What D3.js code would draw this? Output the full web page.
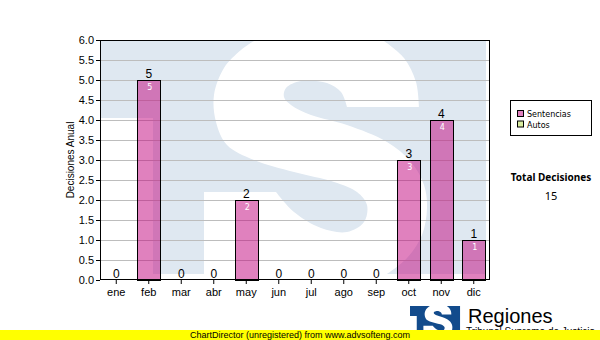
<!DOCTYPE html>
<html>
<head>
<meta charset="utf-8">
<script src="https://cdn.jsdelivr.net/npm/d3@7"></script>
<style>
  body { margin: 0; background: #fff; }
  svg { display: block; }
  .axis text { font-family: "Liberation Sans", Arial, sans-serif; font-size: 11px; fill: #000; }
  .axis line { stroke: #000; }
</style>
</head>
<body>
<div id="chart"></div>
<script>
// data
const months = ["ene", "feb", "mar", "abr", "may", "jun", "jul", "ago", "sep", "oct", "nov", "dic"];
const sentencias = [0, 5, 0, 0, 2, 0, 0, 0, 0, 3, 4, 1];
const yTicks = [0, 0.5, 1, 1.5, 2, 2.5, 3, 3.5, 4, 4.5, 5, 5.5, 6];
const legendLabels = ["Sentencias", "Autos"];
const legendColors = ["#e080be", "#d9eca0"];

const W = 600, H = 340;
const margin = { top: 40, right: 110, bottom: 60, left: 100 };
const plotW = W - margin.left - margin.right;
const plotH = H - margin.top - margin.bottom;

const svg = d3.select("#chart").append("svg")
  .attr("width", W)
  .attr("height", H);

// S logo outline, in logo units (box is 385 x 233)
const logoBox = [[0, 0], [385, 0], [385, 233], [52, 233], [52, 77], [0, 77]];
const sRuns = [
  [[246, 66], [240, 51], [226, 42], [200, 40], [185, 47], [183, 56], [190, 64], [210, 74], [246, 84],
   [286, 101], [310, 121], [323, 144], [326, 167], [321, 194], [306, 217], [286, 233]],
  [[286, 233], [103, 233]],
  [[103, 233], [103, 151]],
  [[103, 151], [175, 151]],
  [[175, 151], [193, 171], [220, 187], [246, 191], [263, 181], [266, 164], [256, 151], [233, 141],
   [193, 131], [153, 119], [126, 104], [115, 81], [113, 54], [123, 27], [140, 9], [153, 0]],
  [[153, 0], [283, 0]],
  [[283, 0], [303, 17], [315, 41], [318, 66]]
];

function sPath() {
  const line = d3.line().curve(d3.curveCatmullRom.alpha(0.5));
  return sRuns.map((r, i) => {
    const d = line(r);
    return i === 0 ? d : d.replace(/^M/, "L");
  }).join("") + "Z";
}

function drawLogo(g, blue) {
  g.append("path")
    .attr("d", "M" + logoBox.join("L") + "Z")
    .attr("fill", blue);
  g.append("path")
    .attr("d", sPath())
    .attr("fill", "#fff");
}

const x = d3.scaleBand()
  .domain(months)
  .range([0, plotW])
  .paddingInner(0.29)
  .paddingOuter(0.145);

const y = d3.scaleLinear()
  .domain([0, 6])
  .range([plotH, 0]);

const chart = svg.append("g")
  .attr("transform", `translate(${margin.left},${margin.top})`);

// watermark
svg.append("clipPath").attr("id", "plotClip")
  .append("rect").attr("width", plotW).attr("height", plotH);
const wm = chart.append("g").attr("clip-path", "url(#plotClip)")
  .append("g").attr("transform", "translate(1,1)");
drawLogo(wm, "#dfe8f1");

// grid lines
chart.append("g")
  .selectAll("line")
  .data(yTicks.filter(d => d > 0 && d < 6))
  .join("line")
  .attr("x1", 0)
  .attr("x2", plotW)
  .attr("y1", d => y(d) + 0.5)
  .attr("y2", d => y(d) + 0.5)
  .attr("stroke", "#bdbdbd");

// bars
const data = months.map((m, i) => ({ month: m, value: sentencias[i] }));

chart.append("g")
  .selectAll("rect")
  .data(data.filter(d => d.value > 0))
  .join("rect")
  .attr("x", d => Math.round(x(d.month)) + 0.5)
  .attr("y", d => y(d.value) + 0.5)
  .attr("width", Math.round(x.bandwidth()))
  .attr("height", d => plotH - y(d.value))
  .attr("fill", "rgba(193,4,126,0.5)")
  .attr("stroke", "#000");

// value labels above bars
chart.append("g")
  .selectAll("text")
  .data(data)
  .join("text")
  .attr("x", d => x(d.month) + x.bandwidth() / 2)
  .attr("y", d => y(d.value) - 2.5)
  .attr("text-anchor", "middle")
  .style("font-family", "'Liberation Sans', Arial, sans-serif")
  .style("font-size", "12px")
  .text(d => d.value);

// value labels inside bars
chart.append("g")
  .selectAll("text")
  .data(data.filter(d => d.value > 0))
  .join("text")
  .attr("x", d => x(d.month) + x.bandwidth() / 2 + 1)
  .attr("y", d => y(d.value) + 10)
  .attr("text-anchor", "middle")
  .attr("fill", "#fff")
  .style("font-family", "'DejaVu Sans', sans-serif")
  .style("font-size", "8px")
  .text(d => d.value);

// frame
chart.append("rect")
  .attr("x", 0.5)
  .attr("y", 0.5)
  .attr("width", plotW - 1)
  .attr("height", plotH - 1)
  .attr("fill", "none")
  .attr("stroke", "#000");

// axes
chart.append("g")
  .attr("class", "axis")
  .call(d3.axisLeft(y).tickValues(yTicks).tickFormat(d3.format(".1f")).tickSize(4).tickPadding(2))
  .call(g => g.select(".domain").remove());

chart.append("g")
  .attr("class", "axis")
  .attr("transform", `translate(0,${plotH})`)
  .call(d3.axisBottom(x).tickSize(4).tickPadding(4))
  .call(g => g.select(".domain").remove());

svg.append("text")
  .attr("transform", `translate(74,${margin.top + plotH / 2}) rotate(-90)`)
  .attr("text-anchor", "middle")
  .style("font-family", "'Liberation Sans', Arial, sans-serif")
  .style("font-size", "10px")
  .text("Decisiones Anual");

// legend
const legend = svg.append("g").attr("transform", "translate(510,100)");
legend.append("rect")
  .attr("x", 0.5).attr("y", 0.5)
  .attr("width", 81).attr("height", 35)
  .attr("fill", "#fff")
  .attr("stroke", "#000");
legendLabels.forEach((lab, i) => {
  legend.append("rect")
    .attr("x", 7.5).attr("y", 10.5 + i * 10.5)
    .attr("width", 6).attr("height", 6)
    .attr("fill", legendColors[i])
    .attr("stroke", "#000");
  legend.append("text")
    .attr("x", 17).attr("y", 17 + i * 10.5)
    .style("font-family", "'DejaVu Sans', sans-serif")
    .style("font-size", "8px")
    .text(lab);
});

// total
svg.append("text")
  .attr("x", 551).attr("y", 181)
  .attr("text-anchor", "middle")
  .style("font-family", "'Noto Sans', sans-serif")
  .style("font-size", "10px")
  .style("font-weight", "bold")
  .text("Total Decisiones");
svg.append("text")
  .attr("x", 551).attr("y", 200)
  .attr("text-anchor", "middle")
  .style("font-family", "'Noto Sans', sans-serif")
  .style("font-size", "11px")
  .text(d3.sum(sentencias));

// brand logo bottom right
const logo = svg.append("g").attr("transform", "translate(410,306) scale(0.13)");
drawLogo(logo, "#124b8c");
svg.append("text")
  .attr("x", 468).attr("y", 323)
  .style("font-family", "'Liberation Sans', Arial, sans-serif")
  .style("font-size", "20px")
  .text("Regiones");
svg.append("text")
  .attr("x", 466).attr("y", 335)
  .style("font-family", "'Liberation Sans', Arial, sans-serif")
  .style("font-size", "10px")
  .text("Tribunal Supremo de Justicia");

// unregistered banner
svg.append("rect")
  .attr("x", 0).attr("y", 330)
  .attr("width", W).attr("height", 10)
  .attr("fill", "#ffff00");
svg.append("text")
  .attr("x", 300).attr("y", 338)
  .attr("text-anchor", "middle")
  .style("font-family", "'Liberation Sans', Arial, sans-serif")
  .style("font-size", "9px")
  .text("ChartDirector (unregistered) from www.advsofteng.com");
</script>
</body>
</html>
